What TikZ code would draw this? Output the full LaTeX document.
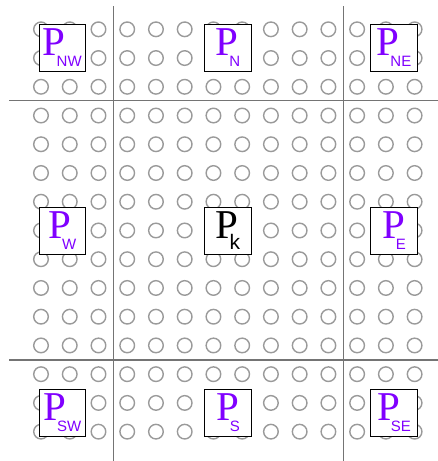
\documentclass[tikz,border=0pt]{standalone}
\usepackage{fontspec}
\setmainfont{Liberation Serif}
\newfontfamily\subsans{Liberation Sans}
\definecolor{procviolet}{HTML}{8000FF}
\definecolor{dotgray}{HTML}{9A9A9A}
\definecolor{linegray}{HTML}{747474}
\newcommand{\plabel}[2][15]{\fontsize{41}{41}\selectfont P\kern-9pt\raisebox{-10.5pt}{\subsans\fontsize{#1}{#1}\selectfont #2}}
\tikzset{
  dotstyle/.style={draw=dotgray, line width=1.4pt},
  splitline/.style={draw=linegray, line width=1.8pt},
  pbox/.style={draw=black, line width=0.9pt, fill=white, minimum width=46.7pt, minimum height=47pt, inner sep=0pt},
  nbr/.style={pbox, text=procviolet},
  ctr/.style={pbox, text=black}
}
\begin{document}
\begin{tikzpicture}[x=1pt,y=-1pt]
\useasboundingbox (0,0) rectangle (438,461);
\fill[white] (0,0) rectangle (438,461);
\foreach \i in {0,...,13}{
  \foreach \j in {0,...,14}{
    \draw[dotstyle] (41+28.74*\i, 29.3+28.74*\j) circle[radius=7.3pt];
  }
}
\coordinate (v1t) at (113.5,6);
\coordinate (v1b) at (113.5,461);
\coordinate (v2t) at (343.5,6);
\coordinate (v2b) at (343.5,461);
\coordinate (h1l) at (9,100.5);
\coordinate (h1r) at (438,100.5);
\coordinate (h2l) at (9,360.3);
\coordinate (h2r) at (438,360.3);
\draw[splitline] (v1t) -- (v1b);
\draw[splitline] (v2t) -- (v2b);
\draw[splitline] (h1l) -- (h1r);
\draw[splitline] (h2l) -- (h2r);
\node[nbr] (pnw) at (62.3,47.8) {\plabel{NW}};
\node[nbr] (pn) at (228,47.8) {\plabel{N}};
\node[nbr] (pne) at (394,47.8) {\plabel{NE}};
\node[nbr] (pw) at (62.3,230.8) {\plabel{W}};
\node[ctr] (pk) at (228,230.8) {\plabel[21]{k}};
\node[nbr] (pe) at (394,230.8) {\plabel{E}};
\node[nbr] (psw) at (62.3,412.7) {\plabel{SW}};
\node[nbr] (ps) at (228,412.7) {\plabel{S}};
\node[nbr] (pse) at (394,412.7) {\plabel{SE}};
\end{tikzpicture}
\end{document}
